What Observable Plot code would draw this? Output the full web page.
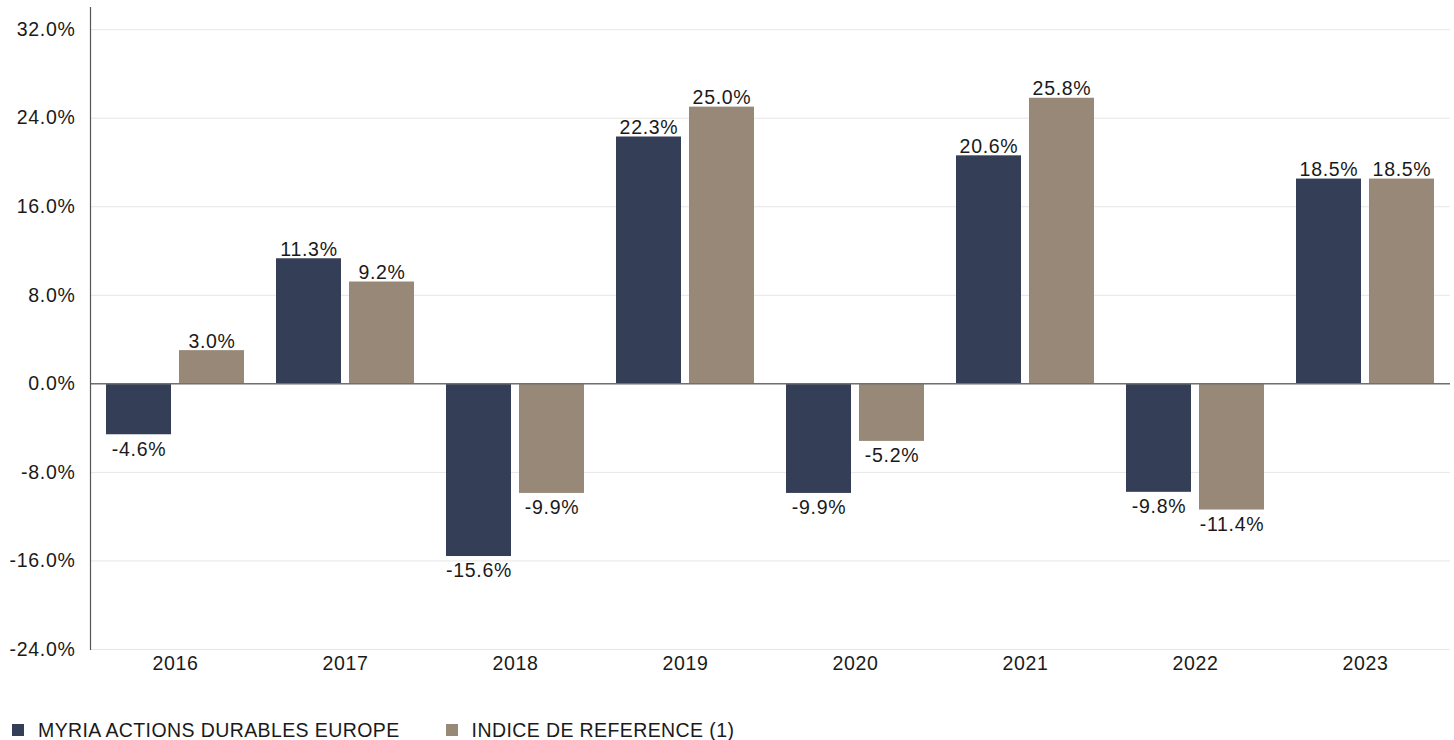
<!DOCTYPE html>
<html>
<head>
<meta charset="utf-8">
<script src="https://cdn.jsdelivr.net/npm/d3@7"></script>
<script src="https://cdn.jsdelivr.net/npm/@observablehq/plot@0.6"></script>
<style>
  body { margin: 0; background: #fff; font-family: "Liberation Sans", Arial, sans-serif; }
  #chart svg text { letter-spacing: 0.7px; }
  .legend { display: flex; align-items: center; padding-top: 30px; padding-left: 12px; font-size: 19.5px; letter-spacing: 0.4px; color: #1a1a1a; line-height: 20px; }
  .legend .sw { display: inline-block; width: 12px; height: 12px; margin-right: 14px; }
  .legend .item { display: flex; align-items: center; margin-right: 46px; }
</style>
</head>
<body>
<div id="chart"></div>
<div class="legend" id="legend"></div>
<script>
const years = ["2016", "2017", "2018", "2019", "2020", "2021", "2022", "2023"];
const seriesNames = ["MYRIA ACTIONS DURABLES EUROPE", "INDICE DE REFERENCE (1)"];
const fundValues = [-4.6, 11.3, -15.6, 22.3, -9.9, 20.6, -9.8, 18.5];
const benchValues = [3.0, 9.2, -9.9, 25.0, -5.2, 25.8, -11.4, 18.5];
const yTicks = [-24, -16, -8, 0, 8, 16, 24, 32];
const colors = ["#343e56", "#978877"];

const data = [];
years.forEach((yr, i) => {
  data.push({year: yr, series: seriesNames[0], value: fundValues[i]});
  data.push({year: yr, series: seriesNames[1], value: benchValues[i]});
});
const fmt = d => d.toFixed(1) + "%";

const chart = Plot.plot({
  width: 1454,
  height: 690,
  marginLeft: 89,
  marginRight: 4,
  marginTop: 7,
  marginBottom: 41,
  style: {fontFamily: "'Liberation Sans', Arial, sans-serif", fontSize: "19.5px", color: "#1a1a1a"},
  fx: {domain: years, padding: 0, label: null},
  x: {domain: seriesNames, paddingInner: 0.1156, paddingOuter: 0.214, axis: null},
  y: {domain: [-24, 34], label: null},
  color: {domain: seriesNames, range: colors},
  marks: [
    Plot.gridY(yTicks, {stroke: "#e6e6e6", strokeOpacity: 1}),
    Plot.barY(data, {fx: "year", x: "series", y: "value", fill: "series"}),
    Plot.ruleY([0], {stroke: "#707070", strokeWidth: 1.5}),
    Plot.frame({anchor: "left", facetAnchor: "left", stroke: "#555", strokeWidth: 1.2}),
    Plot.text(data.filter(d => d.value >= 0), {fx: "year", x: "series", y: "value", text: d => fmt(d.value), lineAnchor: "bottom", dy: -3, fontSize: 19.5, fill: "#1a1a1a"}),
    Plot.text(data.filter(d => d.value < 0), {fx: "year", x: "series", y: "value", text: d => fmt(d.value), lineAnchor: "top", dy: 7, fontSize: 19.5, fill: "#1a1a1a"}),
    Plot.axisY(yTicks, {tickSize: 0, tickPadding: 15, tickFormat: fmt, label: null, fontSize: 19.5}),
    Plot.axisFx({anchor: "bottom", tickSize: 0, tickPadding: 7, label: null, fontSize: 19.5})
  ]
});
document.getElementById("chart").appendChild(chart);

const legend = document.getElementById("legend");
seriesNames.forEach((name, i) => {
  const item = document.createElement("span");
  item.className = "item";
  const sw = document.createElement("span");
  sw.className = "sw";
  sw.style.background = colors[i];
  item.appendChild(sw);
  item.appendChild(document.createTextNode(name));
  legend.appendChild(item);
});
</script>
</body>
</html>
